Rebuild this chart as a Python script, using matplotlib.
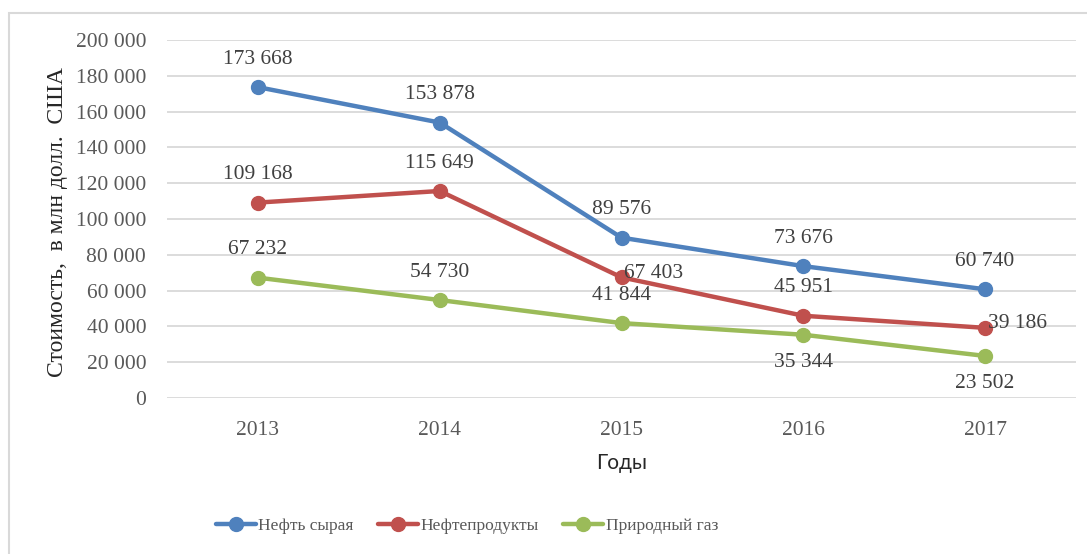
import matplotlib

matplotlib.use("Agg")
import matplotlib.pyplot as plt
from matplotlib.patches import Rectangle

years = ["2013", "2014", "2015", "2016", "2017"]
crude_oil = [173668, 153878, 89576, 73676, 60740]
oil_products = [109168, 115649, 67403, 45951, 39186]
natural_gas = [67232, 54730, 41844, 35344, 23502]

series_names = ["Нефть сырая", "Нефтепродукты", "Природный газ"]
colors = ["#4F81BD", "#C0504D", "#9BBB59"]
y_ticks = list(range(0, 200001, 20000))

# label placement per point: "above", "below" or "right"
crude_pos = ["above"] * 5
products_pos = ["above", "above", "right", "above", "right"]
gas_pos = ["above", "above", "above", "below", "below"]


def fmt(v):
    return f"{v:,}".replace(",", " ")


plt.rcParams["font.family"] = ["Liberation Serif", "DejaVu Serif"]

fig = plt.figure(figsize=(10.87, 5.54), dpi=100)
ax = fig.add_axes([167 / 1087, 1 - 398 / 554, (1076 - 167) / 1087, (398 - 40) / 554])

# outer chart frame (right and bottom edges are cut off in the source)
fig.patches.append(
    Rectangle((9 / 1087, -0.1), 1.2, 1 - 13 / 554 + 0.1, transform=fig.transFigure,
              fill=False, edgecolor="#D9D9D9", lw=1.5, clip_on=False)
)

x = list(range(len(years)))
all_series = [crude_oil, oil_products, natural_gas]
all_pos = [crude_pos, products_pos, gas_pos]

for vals, name, col, pos in zip(all_series, series_names, colors, all_pos):
    ax.plot(x, vals, color=col, lw=3.2, marker="o", ms=10, label=name, zorder=3,
            solid_capstyle="round")
    for xi, v, p in zip(x, vals, pos):
        if p == "above":
            off, ha, va = (0, 20), "center", "center"
        elif p == "below":
            off, ha, va = (0, -20), "center", "center"
        else:
            off, ha, va = (2, 3), "left", "center"
        ax.annotate(fmt(v), (xi, v), xytext=off, textcoords="offset points",
                    ha=ha, va=va, fontsize=15.5, color="#404040", zorder=4)

ax.set_xlim(-0.5, len(years) - 0.5)
ax.set_ylim(0, 200000)
ax.set_yticks(y_ticks)
ax.set_yticklabels([fmt(t) for t in y_ticks])
ax.set_xticks(x)
ax.set_xticklabels(years)
ax.tick_params(axis="both", length=0, labelsize=15.5, labelcolor="#595959")
ax.tick_params(axis="y", pad=15)
ax.tick_params(axis="x", pad=16.5)
ax.grid(axis="y", color="#D9D9D9", lw=1.3)
ax.set_axisbelow(True)
for s in ax.spines.values():
    s.set_visible(False)

fig.text(57 / 1087, 1 - 222 / 554, "Стоимость,  в млн долл.  США", rotation=90,
         ha="center", va="center", fontsize=17, color="#262626")
fig.text(622 / 1087, 1 - 463 / 554, "Годы", ha="center", va="center",
         fontsize=15, color="#262626", family=["Lato", "DejaVu Sans"])

leg = fig.legend(loc="center", bbox_to_anchor=(467 / 1087, 1 - 526 / 554), ncol=3,
                 frameon=False, fontsize=12.5, handlelength=2.3, handletextpad=0.15,
                 columnspacing=1.4, labelcolor="#595959")

fig.savefig("out.png", dpi=100)
